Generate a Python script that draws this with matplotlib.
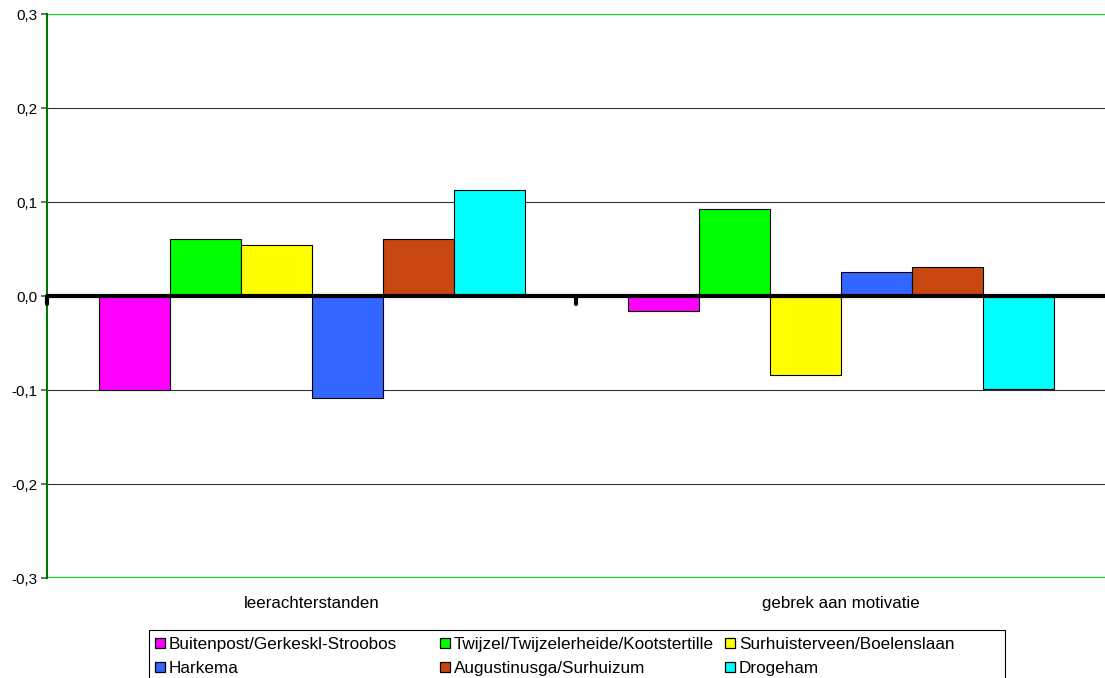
import numpy as np
import matplotlib.pyplot as plt
from matplotlib.patches import Rectangle

plt.rcParams['font.family'] = ['Liberation Sans', 'DejaVu Sans']

categories = ['leerachterstanden', 'gebrek aan motivatie']
series = ['Buitenpost/Gerkeskl-Stroobos', 'Twijzel/Twijzelerheide/Kootstertille',
          'Surhuisterveen/Boelenslaan', 'Harkema', 'Augustinusga/Surhuizum', 'Drogeham']
colors = ['#ff00ff', '#00ff00', '#ffff00', '#3366ff', '#c8460f', '#00ffff']
values = [
    [-0.100, -0.016],
    [0.061, 0.093],
    [0.054, -0.084],
    [-0.108, 0.026],
    [0.061, 0.031],
    [0.113, -0.099],
]
yticks = [-0.3, -0.2, -0.1, 0.0, 0.1, 0.2, 0.3]

W, H = 1105, 678
fig = plt.figure(figsize=(W / 100, H / 100), dpi=100)
ax = fig.add_axes([47 / W, 1 - 578 / H, 1058 / W, 564 / H])

x = np.arange(len(categories))
bw = 71 / 529
n = len(series)
for i, (name, vals, c) in enumerate(zip(series, values, colors)):
    ax.bar(x + (i - (n - 1) / 2) * bw, vals, width=bw, color=c,
           edgecolor='black', linewidth=0.8, zorder=3)

ax.set_xlim(-0.5, 1.5)
ax.set_ylim(-0.3, 0.3)
ax.set_yticks(yticks)
ax.set_yticklabels([f'{v:.1f}'.replace('.', ',') for v in yticks], fontsize=11)
for v in yticks[1:-1]:
    if v != 0:
        ax.axhline(v, color='#333333', linewidth=0.8, zorder=1)
ax.axhline(0.3, color='#00dd00', linewidth=1.5, zorder=2)
ax.axhline(-0.3, color='#00dd00', linewidth=1.5, zorder=2)
ax.axhline(0, color='black', linewidth=3, zorder=4)

for s in ['top', 'right', 'bottom']:
    ax.spines[s].set_visible(False)
ax.spines['left'].set_color('#007700')
ax.spines['left'].set_linewidth(1.5)
ax.tick_params(axis='y', length=4, color='#555555', width=1.2, pad=3)

ax.set_xticks([])
for xi, lab in zip(x, categories):
    ax.text(xi, -0.327, lab, ha='center', va='center', fontsize=12.2,
            transform=ax.transData)
for xb in [-0.5, 0.5]:
    ax.plot([xb, xb], [0, -0.008], color='black', linewidth=3,
            solid_capstyle='round', zorder=5, clip_on=False)

# legend, Excel style: three equal-width columns, two rows
def fx(px):
    return px / W

def fy(py):
    return 1 - py / H

fig.patches.append(Rectangle((fx(149), fy(690)), fx(1005) - fx(149), fy(630) - fy(690),
                             transform=fig.transFigure, facecolor='white',
                             edgecolor='black', linewidth=0.8, zorder=1))
order = [0, 3, 1, 4, 2, 5]
for k, i in enumerate(order):
    col, row = k // 2, k % 2
    mx = 155 + 285 * col
    my = 643 + 24 * row
    fig.patches.append(Rectangle((fx(mx), fy(my + 5)), fx(10), 10 / H,
                                 transform=fig.transFigure, facecolor=colors[i],
                                 edgecolor='black', linewidth=0.9, zorder=2))
    fig.text(fx(mx + 14), fy(my), series[i], ha='left', va='center_baseline',
             fontsize=12.3, zorder=3)

fig.savefig('out.png', dpi=100)
